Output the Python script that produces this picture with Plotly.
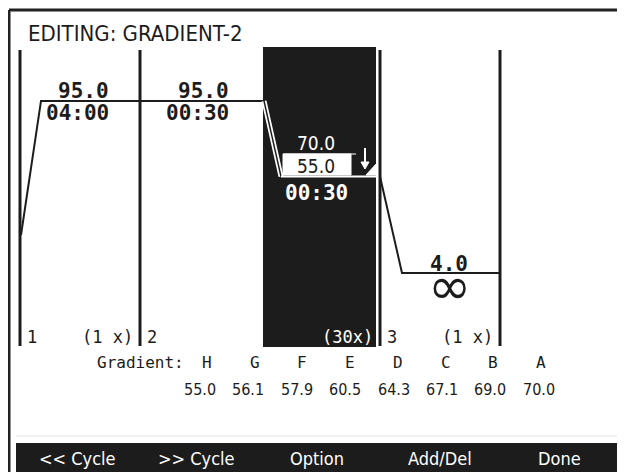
import plotly.graph_objects as go

# ---------------- data ----------------
title_text = "EDITING: GRADIENT-2"
start_temp = 24.0
step_temps = [95.0, 95.0, 55.0, 4.0]
step_times = ["04:00", "00:30", "00:30", "∞"]
gradient_hi = 70.0
cycle_numbers = ["1", "2", "3"]
cycle_repeats = ["(1 x)", "(30x)", "(1 x)"]
gradient_rows = ["H", "G", "F", "E", "D", "C", "B", "A"]
gradient_temps = [55.0, 56.1, 57.9, 60.5, 64.3, 67.1, 69.0, 70.0]
menu_items = ["<< Cycle", ">> Cycle", "Option", "Add/Del", "Done"]

# ---------------- layout constants ----------------
W, H = 625, 472
OFF = 8                                # page body margin
T_TOP, T_BOT = 144.17, -101.3          # temperature axis range (pixel mapped)
step_left = [20, 140, 264, 380]
step_right = [140, 264, 378, 500]
ramp_px = [21, 0, 17, 22]
highlight = 2                          # selected step (index)
INK = "#1c1c1c"
MONO = "DejaVu Sans Mono, Liberation Mono, monospace"
NARROW = "Liberation Sans Narrow, DejaVu Sans Condensed, Liberation Sans, Arial"

fig = go.Figure()

# profile line, segment by segment
prev = start_temp
for i, t in enumerate(step_temps):
    xs = [step_left[i] + (1 if i == 0 else 0), step_left[i] + ramp_px[i], step_right[i]]
    ys = [prev, t, t]
    if i == highlight:
        fig.add_trace(go.Scatter(x=xs[:2], y=ys[:2], mode="lines",
                                 line=dict(color="white", width=5), hoverinfo="skip"))
        fig.add_trace(go.Scatter(x=xs[:2], y=ys[:2], mode="lines",
                                 line=dict(color=INK, width=1.5), hoverinfo="skip"))
        fig.add_trace(go.Scatter(x=xs[1:], y=ys[1:], mode="lines",
                                 line=dict(color="white", width=2), hoverinfo="skip"))
    else:
        fig.add_trace(go.Scatter(x=xs, y=ys, mode="lines",
                                 line=dict(color=INK, width=2), hoverinfo="skip"))
    prev = t

shapes = []
# outer frame
shapes.append(dict(type="line", xref="x", yref="y2", x0=9, x1=W, y0=10, y1=10,
                   line=dict(color="#222", width=3)))
shapes.append(dict(type="line", xref="x", yref="y2", x0=9, x1=9, y0=10, y1=H,
                   line=dict(color="#222", width=3)))
# highlighted step background
shapes.append(dict(type="rect", xref="x", yref="y2", x0=263, x1=376, y0=47, y1=347,
                   fillcolor=INK, line=dict(width=0), layer="below"))
# cycle separators
for xv in [20, 140, 380, 500]:
    shapes.append(dict(type="line", xref="x", yref="y2", x0=xv, x1=xv, y0=50, y1=346,
                       line=dict(color=INK, width=3)))
# white box for low gradient temperature
shapes.append(dict(type="rect", xref="x", yref="y2", x0=283, x1=351, y0=154, y1=175,
                   fillcolor="white", line=dict(color="white", width=1)))
shapes.append(dict(type="line", xref="x", yref="y2", x0=283, x1=356, y0=154, y1=154,
                   line=dict(color="white", width=1)))
# gradient icon
shapes.append(dict(type="path", xref="x", yref="y2",
                   path="M 366 175 L 377 175 L 377 163 Z", fillcolor="white",
                   line=dict(color="white", width=1)))
shapes.append(dict(type="line", xref="x", yref="y2", x0=365, x1=365, y0=148, y1=164,
                   line=dict(color="white", width=2)))
shapes.append(dict(type="path", xref="x", yref="y2",
                   path="M 361 162 L 369 162 L 365 169 Z", fillcolor="white",
                   line=dict(color="white", width=1)))
# menu bar
shapes.append(dict(type="line", xref="x", yref="y2", x0=16, x1=W, y0=436, y1=436,
                   line=dict(color="#e6e6e6", width=1)))
shapes.append(dict(type="rect", xref="x", yref="y2", x0=16, x1=W, y0=443, y1=H + 2,
                   fillcolor=INK, line=dict(width=0)))

ann = []
def txt(x, y, s, size, color=INK, family=MONO, xanchor="center", yanchor="middle",
        yref="y2", bold=False, yshift=0):
    ann.append(dict(x=x, y=y, xref="x", yref=yref, text=("<b>%s</b>" % s) if bold else s,
                    showarrow=False, xanchor=xanchor, yanchor=yanchor, yshift=yshift,
                    font=dict(size=size, color=color, family=family)))

txt(26, 33, title_text, 22, family=NARROW, xanchor="left")

# step labels
label_right = [111, 231, None, 471]
for i, t in enumerate(step_temps):
    if i == highlight:
        continue
    if step_times[i] == "∞":
        xc = (step_left[i] + ramp_px[i] + step_right[i]) / 2 - 2
        txt(xc, t, "%.1f" % t, 21, bold=True, yref="y", yanchor="bottom", yshift=-5)
        txt(xc, t, step_times[i], 52, family="DejaVu Sans", yref="y", yanchor="top", yshift=19)
    else:
        txt(label_right[i], t, "%.1f" % t, 21, bold=True, xanchor="right",
            yref="y", yanchor="bottom", yshift=-4)
        txt(label_right[i], t, step_times[i], 21, bold=True, xanchor="right",
            yref="y", yanchor="top", yshift=2)

# highlighted gradient step
txt(316, gradient_hi, "%.1f" % gradient_hi, 19, color="white", family=NARROW, yref="y",
    yanchor="middle", yshift=5)
txt(316, step_temps[highlight], "%.1f" % step_temps[highlight], 19, family=NARROW,
    yref="y", yanchor="bottom", yshift=-2)
txt(316, step_temps[highlight], step_times[highlight], 21, color="white", bold=True,
    yref="y", yanchor="top", yshift=-2)

# cycle numbers and repeats
num_x = [25, 145, 385]
rep_right = [135, 375, 495]
for i in range(3):
    txt(num_x[i], 337, cycle_numbers[i], 17, xanchor="left")
    txt(rep_right[i], 337, cycle_repeats[i], 17, xanchor="right",
        color="white" if i == 1 else INK)

# gradient table
txt(186, 362, "Gradient:", 16, xanchor="right")
for i, (r, v) in enumerate(zip(gradient_rows, gradient_temps)):
    txt(207 + 47.7 * i, 362, r, 16)
    txt(200 + 48.4 * i, 389, "%.1f" % v, 16, family=NARROW)

# menu
menu_x = [77, 196, 317, 440, 559]
for xm, m in zip(menu_x, menu_items):
    txt(xm, 458, m, 18, color="white", family=NARROW)

fig.update_layout(
    width=W - OFF, height=H - OFF, margin=dict(l=0, r=0, t=0, b=0),
    paper_bgcolor="white", plot_bgcolor="white", showlegend=False,
    xaxis=dict(range=[OFF, W], visible=False, fixedrange=True),
    yaxis=dict(range=[T_BOT, T_TOP], visible=False, fixedrange=True),
    yaxis2=dict(range=[H, OFF], visible=False, overlaying="y", fixedrange=True),
    shapes=shapes, annotations=ann,
)
fig.write_html("out.html")
